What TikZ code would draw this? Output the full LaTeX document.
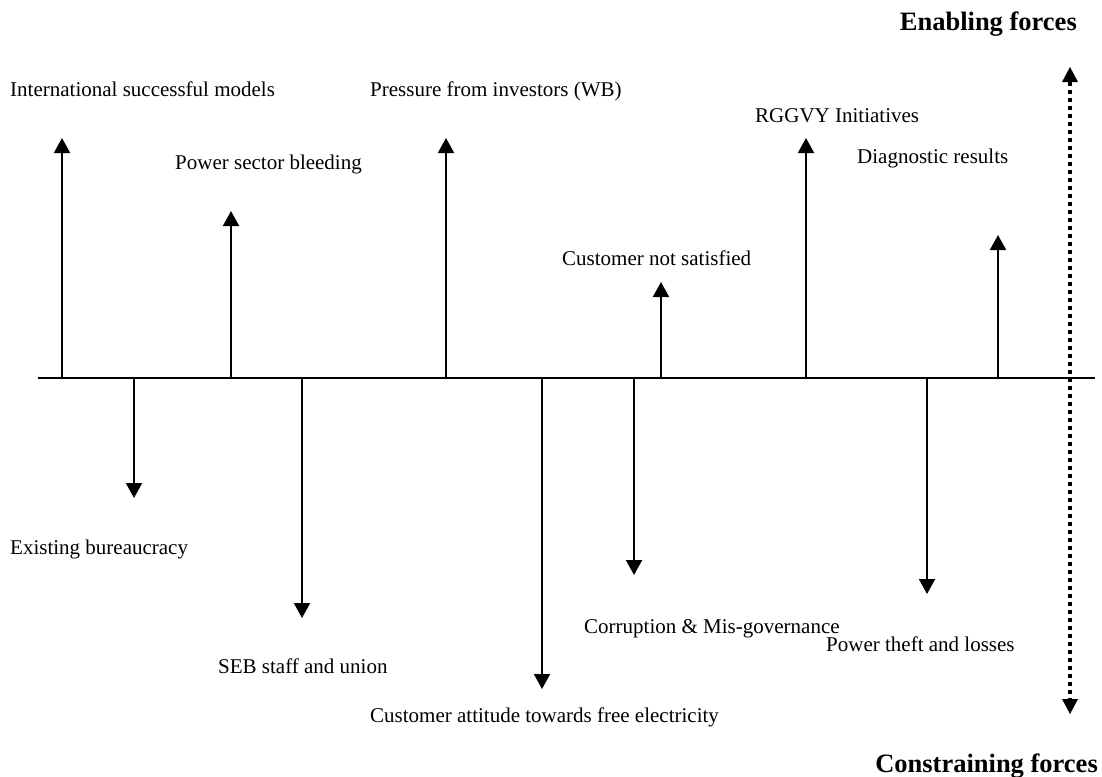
\documentclass[tikz,border=0pt]{standalone}
\usepackage{fontspec}
\setmainfont{Liberation Serif}
\usetikzlibrary{arrows.meta}
\begin{document}
\begin{tikzpicture}[x=1pt,y=-1pt,
  force/.style={line width=2pt,-{Triangle[width=16pt,length=15pt]}},
  axisline/.style={line width=2pt},
  trend/.style={line width=3.5pt,dash pattern=on 3.5pt off 4.5pt,
    {Triangle[width=16pt,length=15pt,line width=0pt]}-{Triangle[width=16pt,length=15pt,line width=0pt]}},
  lbl/.style={anchor=base west,inner sep=0pt,font=\fontsize{21}{25}\selectfont},
  head/.style={anchor=base east,inner sep=0pt,font=\fontsize{26.5}{30}\selectfont\bfseries}]
\useasboundingbox (0,0) rectangle (1102,776);

% horizontal axis
\coordinate (axL) at (38,378);
\coordinate (axR) at (1095,378);
\draw[axisline] (axL) -- (axR);

% enabling forces (pointing up)
\coordinate (u1) at (62,378);  \coordinate (u1t) at (62,138);
\coordinate (u2) at (231,378); \coordinate (u2t) at (231,211);
\coordinate (u3) at (446,378); \coordinate (u3t) at (446,138);
\coordinate (u4) at (661,378); \coordinate (u4t) at (661,282);
\coordinate (u5) at (806,378); \coordinate (u5t) at (806,138);
\coordinate (u6) at (998,378); \coordinate (u6t) at (998,235);
\foreach \a in {u1,u2,u3,u4,u5,u6} \draw[force] (\a) -- (\a t);

% constraining forces (pointing down)
\coordinate (d1) at (134,378); \coordinate (d1t) at (134,498);
\coordinate (d2) at (302,378); \coordinate (d2t) at (302,618);
\coordinate (d3) at (542,378); \coordinate (d3t) at (542,689);
\coordinate (d4) at (634,378); \coordinate (d4t) at (634,575);
\coordinate (d5) at (927,378); \coordinate (d5t) at (927,594);
\foreach \a in {d1,d2,d3,d4,d5} \draw[force] (\a) -- (\a t);

% dotted double arrow on the right
\coordinate (vtop) at (1070,67);
\coordinate (vbot) at (1070,714);
\draw[trend] (vtop) -- (vbot);

% labels
\node[lbl] (l1) at (10,96)  {International successful models};
\node[lbl] (l2) at (175,169) {Power sector bleeding};
\node[lbl] (l3) at (370,96)  {Pressure from investors (WB)};
\node[lbl] (l4) at (562,265) {Customer not satisfied};
\node[lbl] (l5) at (755,122) {RGGVY Initiatives};
\node[lbl] (l6) at (857,163) {Diagnostic results};

\node[lbl] (m1) at (10,554)  {Existing bureaucracy};
\node[lbl] (m2) at (218,673) {SEB staff and union};
\node[lbl] (m3) at (370,722) {Customer attitude towards free electricity};
\node[lbl] (m4) at (584,633) {Corruption \& Mis-governance};
\node[lbl] (m5) at (826,651) {Power theft and losses};

\node[head] (en) at (1077,31)  {Enabling forces};
\node[head] (co) at (1098,772) {Constraining forces};
\end{tikzpicture}
\end{document}
